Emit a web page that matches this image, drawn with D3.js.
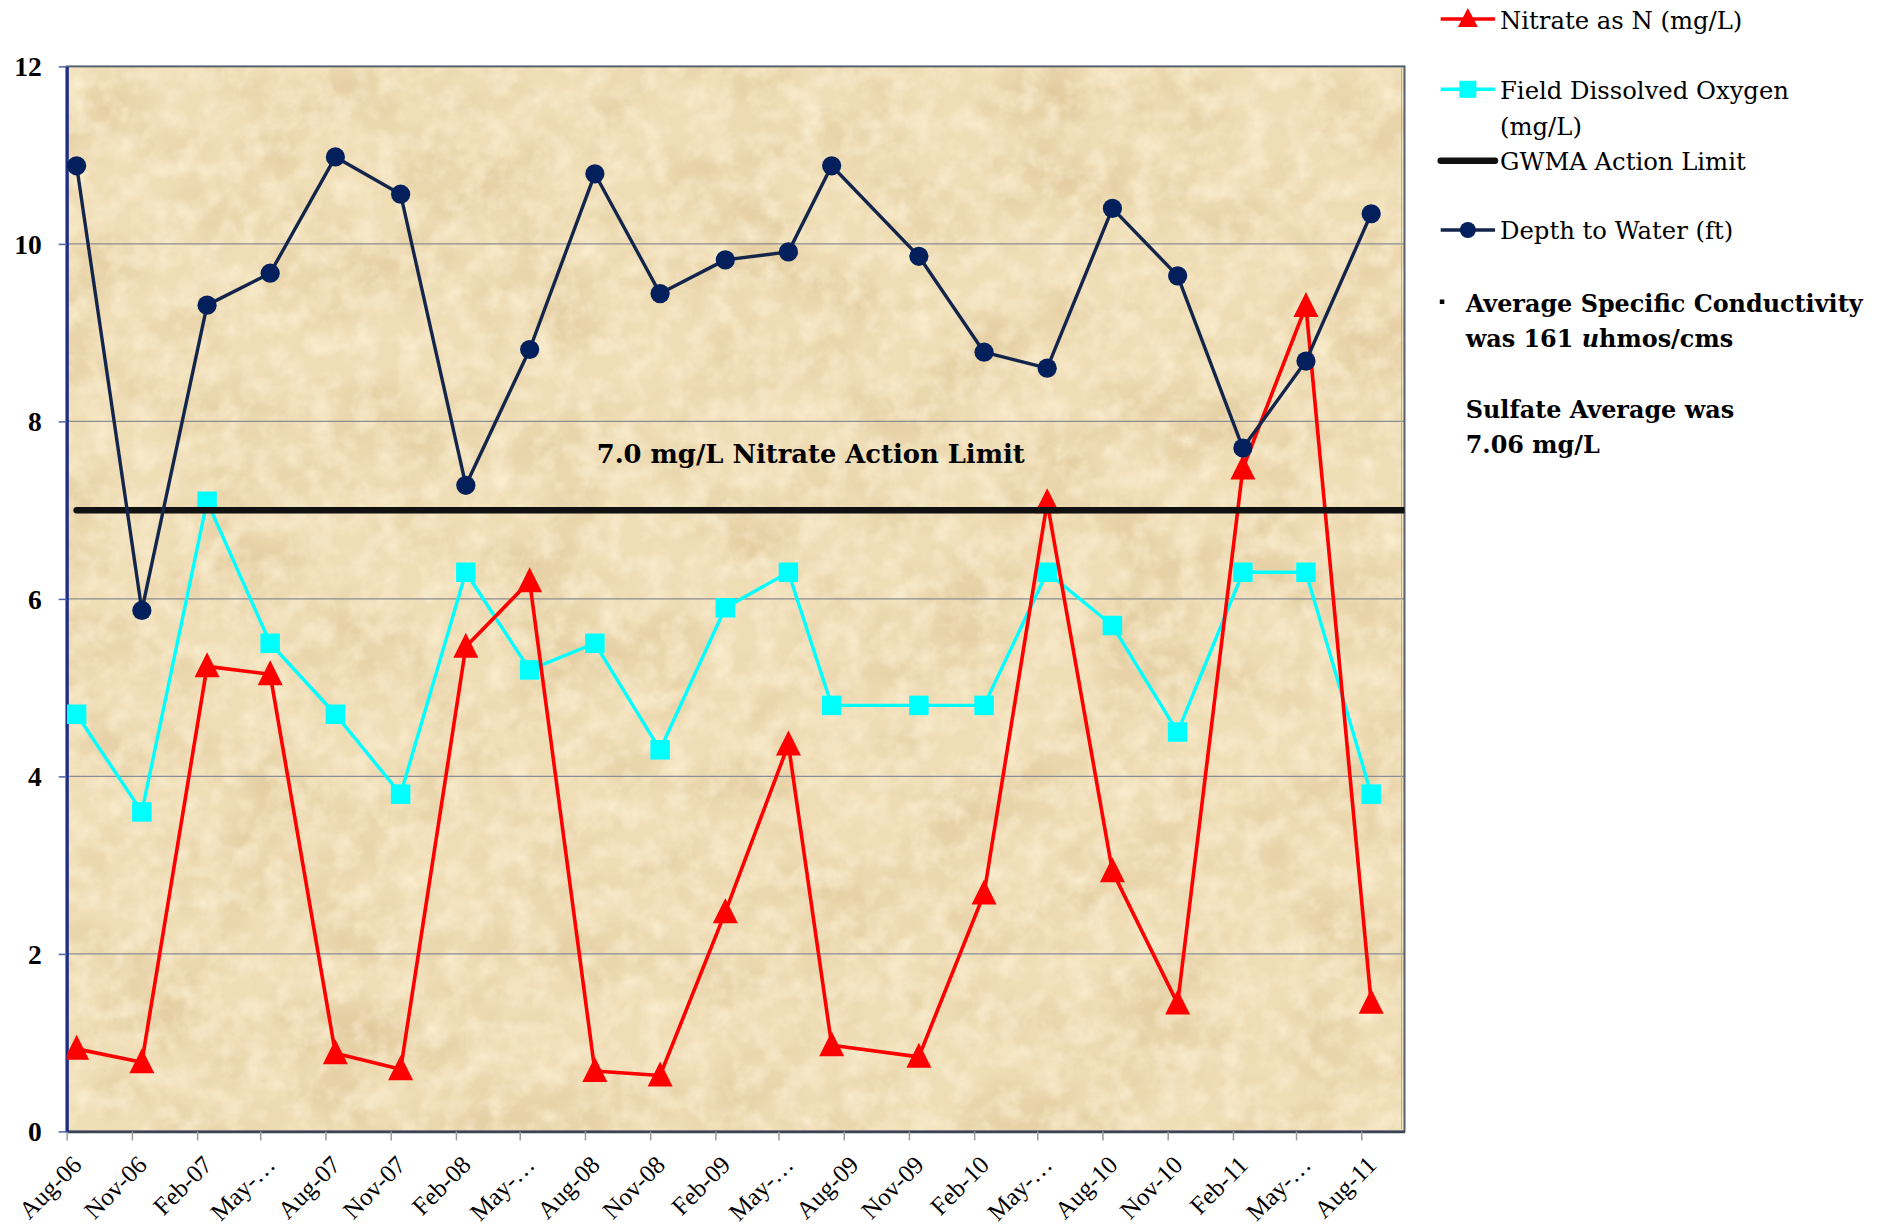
<!DOCTYPE html>
<html>
<head>
<meta charset="utf-8">
<script src="https://cdn.jsdelivr.net/npm/d3@7"></script>
<style>
  html, body { margin: 0; padding: 0; background: #ffffff; }
  svg { display: block; }
</style>
</head>
<body>
<svg id="chart" width="1886" height="1229"></svg>
<script>
// ---- Monitoring data: quarterly well samples, Aug 2006 – Aug 2011 ----
const sampleDates = [
  "2006-08-15", "2006-11-15", "2007-02-15", "2007-05-15", "2007-08-15",
  "2007-11-15", "2008-02-15", "2008-05-15", "2008-08-15", "2008-11-15",
  "2009-02-15", "2009-05-15", "2009-07-15", "2009-11-15", "2010-02-15",
  "2010-05-15", "2010-08-15", "2010-11-15", "2011-02-15", "2011-05-15",
  "2011-08-15"
];
const nitrate = [
  0.93, 0.78, 5.24, 5.15, 0.88, 0.70, 5.46, 6.20, 0.68, 0.63,
  2.47, 4.36, 0.97, 0.84, 2.68, 7.09, 2.93, 1.44, 7.47, 9.30, 1.45
];
const dissolvedOxygen = [
  4.7, 3.6, 7.1, 5.5, 4.7, 3.8, 6.3, 5.2, 5.5, 4.3,
  5.9, 6.3, 4.8, 4.8, 4.8, 6.3, 5.7, 4.5, 6.3, 6.3, 3.8
];
const depthToWater = [
  10.88, 5.87, 9.31, 9.67, 10.98, 10.56, 7.28, 8.81, 10.79, 9.44,
  9.82, 9.91, 10.88, 9.86, 8.78, 8.60, 10.40, 9.64, 7.70, 8.68, 10.34
];
const actionLimit = 7.0;
const actionLimitSpan = ["2006-08-15", "2011-10-01"];

const axisStart = "2006-08-01";
const axisEnd = "2011-10-01";
const yTicks = [0, 2, 4, 6, 8, 10, 12];
const gridValues = [2, 4, 6, 8, 10];
const tickLabels = [
  "Aug-06", "Nov-06", "Feb-07", "May-…", "Aug-07", "Nov-07", "Feb-08",
  "May-…", "Aug-08", "Nov-08", "Feb-09", "May-…", "Aug-09", "Nov-09",
  "Feb-10", "May-…", "Aug-10", "Nov-10", "Feb-11", "May-…", "Aug-11"
];
const limitLabel = "7.0 mg/L Nitrate Action Limit";
const legendNames = [
  ["Nitrate as N (mg/L)"],
  ["Field Dissolved Oxygen", "(mg/L)"],
  ["GWMA Action Limit"],
  ["Depth to Water (ft)"]
];

// ---- Layout ----
const plot = { left: 66.7, right: 1404.5, top: 66.4, bottom: 1131.4 };
const parse = d3.timeParse("%Y-%m-%d");

const svg = d3.select("#chart");
const x = d3.scaleTime()
  .domain([parse(axisStart), parse(axisEnd)])
  .range([plot.left, plot.right]);
const y = d3.scaleLinear()
  .domain([0, 12])
  .range([plot.bottom, plot.top]);

const dates = sampleDates.map(parse);
const toPoints = vals => vals.map((v, i) => ({ date: dates[i], v }));

// ---- Parchment fill for the plot area ----
const defs = svg.append("defs");
const f = defs.append("filter").attr("id", "parchment")
  .attr("x", 0).attr("y", 0).attr("width", 1).attr("height", 1)
  .attr("color-interpolation-filters", "sRGB");
f.append("feTurbulence").attr("type", "fractalNoise")
  .attr("baseFrequency", "0.010 0.013").attr("numOctaves", 4).attr("seed", 7)
  .attr("result", "noiseA");
f.append("feColorMatrix").attr("in", "noiseA").attr("type", "matrix")
  .attr("values", "0 0 0 0 0.84  0 0 0 0 0.73  0 0 0 0 0.53  1.1 0 0 0 -0.47")
  .attr("result", "darkTone");
f.append("feTurbulence").attr("type", "fractalNoise")
  .attr("baseFrequency", "0.045").attr("numOctaves", 4).attr("seed", 19)
  .attr("result", "noiseB");
f.append("feColorMatrix").attr("in", "noiseB").attr("type", "matrix")
  .attr("values", "0 0 0 0 0.99  0 0 0 0 0.95  0 0 0 0 0.84  0 1.5 0 0 -0.58")
  .attr("result", "lightTone");
f.append("feMerge").call(m => {
  m.append("feMergeNode").attr("in", "SourceGraphic");
  m.append("feMergeNode").attr("in", "darkTone");
  m.append("feMergeNode").attr("in", "lightTone");
});

defs.append("clipPath").attr("id", "plotClip")
  .append("rect")
  .attr("x", plot.left).attr("y", plot.top - 20)
  .attr("width", plot.right - plot.left).attr("height", plot.bottom - plot.top + 40);

svg.append("rect")
  .attr("x", plot.left).attr("y", plot.top)
  .attr("width", plot.right - plot.left).attr("height", plot.bottom - plot.top)
  .attr("fill", "#efddb6")
  .attr("filter", "url(#parchment)");

// ---- Gridlines ----
svg.append("g").selectAll("line").data(gridValues).join("line")
  .attr("x1", plot.left).attr("x2", plot.right)
  .attr("y1", d => y(d)).attr("y2", d => y(d))
  .attr("stroke", "#8a8d93").attr("stroke-width", 1.3);

// ---- Plot frame ----
svg.append("rect")
  .attr("x", plot.left).attr("y", plot.top)
  .attr("width", plot.right - plot.left).attr("height", plot.bottom - plot.top)
  .attr("fill", "none").attr("stroke", "#56616f").attr("stroke-width", 2);
svg.append("line")
  .attr("x1", plot.right - 3).attr("x2", plot.right - 3)
  .attr("y1", plot.top + 2).attr("y2", plot.bottom - 2)
  .attr("stroke", "#a9afb6").attr("stroke-width", 1);

// ---- Axes ----
const tickDates = d3.timeMonth.range(parse(axisStart), parse("2011-08-02"), 3);

const xAxis = svg.append("g")
  .attr("transform", `translate(0,${plot.bottom})`)
  .call(d3.axisBottom(x).tickValues(tickDates)
    .tickFormat((d, i) => tickLabels[i]).tickSize(9).tickSizeOuter(0));
xAxis.select(".domain").attr("stroke", "#3a4454").attr("stroke-width", 2.5);
xAxis.selectAll(".tick line").attr("stroke", "#9a9a9a").attr("stroke-width", 1.5);
xAxis.selectAll(".tick text")
  .style("font-family", "'Liberation Serif', 'Times New Roman', serif")
  .style("font-size", "25px")
  .attr("fill", "#000")
  .attr("text-anchor", "end")
  .attr("dy", 0)
  .attr("y", 0)
  .attr("transform", "translate(16,35) rotate(-45)");

const yAxis = svg.append("g")
  .attr("transform", `translate(${plot.left},0)`)
  .call(d3.axisLeft(y).tickValues(yTicks).tickSize(8).tickPadding(17).tickSizeOuter(0));
yAxis.select(".domain").attr("stroke", "#1c2d82").attr("stroke-width", 3.2);
yAxis.selectAll(".tick line").attr("stroke", "#4b62ad").attr("stroke-width", 1.5);
yAxis.selectAll(".tick text")
  .style("font-family", "'Liberation Serif', 'Times New Roman', serif")
  .style("font-weight", "bold")
  .style("font-size", "27.5px")
  .attr("fill", "#000")
  .attr("dy", "0.34em");

// ---- Series ----
const line = d3.line().x(d => x(d.date)).y(d => y(d.v));
const series = svg.append("g").attr("clip-path", "url(#plotClip)");
const triangle = "M0,-14L12.5,11L-12.5,11Z";

// Field dissolved oxygen
const doPts = toPoints(dissolvedOxygen);
series.append("path").datum(doPts)
  .attr("d", line).attr("fill", "none")
  .attr("stroke", "#00ffff").attr("stroke-width", 3.4).attr("stroke-linejoin", "round");
series.append("g").selectAll("rect").data(doPts).join("rect")
  .attr("x", d => x(d.date) - 9.75).attr("y", d => y(d.v) - 9.75)
  .attr("width", 19.5).attr("height", 19.5).attr("fill", "#00ffff");

// Nitrate as N
const nPts = toPoints(nitrate);
series.append("path").datum(nPts)
  .attr("d", line).attr("fill", "none")
  .attr("stroke", "#ff0000").attr("stroke-width", 3.6).attr("stroke-linejoin", "round");
series.append("g").selectAll("path").data(nPts).join("path")
  .attr("d", triangle)
  .attr("transform", d => `translate(${x(d.date)},${y(d.v)})`)
  .attr("fill", "#ff0000");

// GWMA action limit
const limitPts = actionLimitSpan.map(s => ({ date: parse(s), v: actionLimit }));
series.append("path").datum(limitPts)
  .attr("d", line).attr("fill", "none")
  .attr("stroke", "#111111").attr("stroke-width", 6.5).attr("stroke-linecap", "round");

// Depth to water
const dPts = toPoints(depthToWater);
series.append("path").datum(dPts)
  .attr("d", line).attr("fill", "none")
  .attr("stroke", "#13254b").attr("stroke-width", 3.4).attr("stroke-linejoin", "round");
series.append("g").selectAll("circle").data(dPts).join("circle")
  .attr("cx", d => x(d.date)).attr("cy", d => y(d.v)).attr("r", 9.6)
  .attr("fill", "#03205c");

// ---- Action limit caption ----
svg.append("text")
  .attr("x", 596.7).attr("y", 463)
  .style("font-family", "'DejaVu Serif', serif")
  .style("font-weight", "bold").style("font-size", "25.8px")
  .attr("fill", "#000")
  .text(limitLabel);

// ---- Legend ----
const legend = svg.append("g")
  .style("font-family", "'DejaVu Serif', serif")
  .style("font-size", "24.3px").attr("fill", "#000");
const lx0 = 1440.7, lx1 = 1495, tx = 1500;
const legendRows = [
  { y: 19, base: [29.3], color: "#ff0000", w: 3.4, marker: "tri" },
  { y: 89.3, base: [99, 135], color: "#00ffff", w: 3.4, marker: "sq" },
  { y: 160.7, base: [170], color: "#111111", w: 6.5, marker: null },
  { y: 230, base: [239.3], color: "#13254b", w: 3.3, marker: "circ" }
];
legendRows.forEach((r, i) => {
  legend.append("line")
    .attr("x1", lx0).attr("x2", lx1).attr("y1", r.y).attr("y2", r.y)
    .attr("stroke", r.color).attr("stroke-width", r.w)
    .attr("stroke-linecap", r.marker ? "butt" : "round");
  const mx = (lx0 + lx1) / 2;
  if (r.marker === "tri") {
    legend.append("path").attr("d", "M0,-11L10,8L-10,8Z")
      .attr("transform", `translate(${mx},${r.y})`).attr("fill", "#ff0000");
  } else if (r.marker === "sq") {
    legend.append("rect").attr("x", mx - 8.5).attr("y", r.y - 8.5)
      .attr("width", 17).attr("height", 17).attr("fill", "#00ffff");
  } else if (r.marker === "circ") {
    legend.append("circle").attr("cx", mx).attr("cy", r.y).attr("r", 8)
      .attr("fill", "#03205c");
  }
  legendNames[i].forEach((txt, j) => {
    legend.append("text").attr("x", tx).attr("y", r.base[j]).text(txt);
  });
});

// ---- Summary notes ----
const notes = svg.append("g")
  .style("font-family", "'DejaVu Serif', serif")
  .style("font-weight", "bold").style("font-size", "23.9px").attr("fill", "#000");
notes.append("rect").attr("x", 1439.8).attr("y", 299.5)
  .attr("width", 4.5).attr("height", 4.5).attr("fill", "#000");
notes.append("text").attr("x", 1465.7).attr("y", 312.3)
  .text("Average Specific Conductivity");
const l2 = notes.append("text").attr("x", 1465.7).attr("y", 346.7);
l2.append("tspan").text("was 161 ");
l2.append("tspan").style("font-style", "italic").text("u");
l2.append("tspan").text("hmos/cms");
notes.append("text").attr("x", 1465.7).attr("y", 417.7).text("Sulfate Average was");
notes.append("text").attr("x", 1465.7).attr("y", 452.7).text("7.06 mg/L");
</script>
</body>
</html>
